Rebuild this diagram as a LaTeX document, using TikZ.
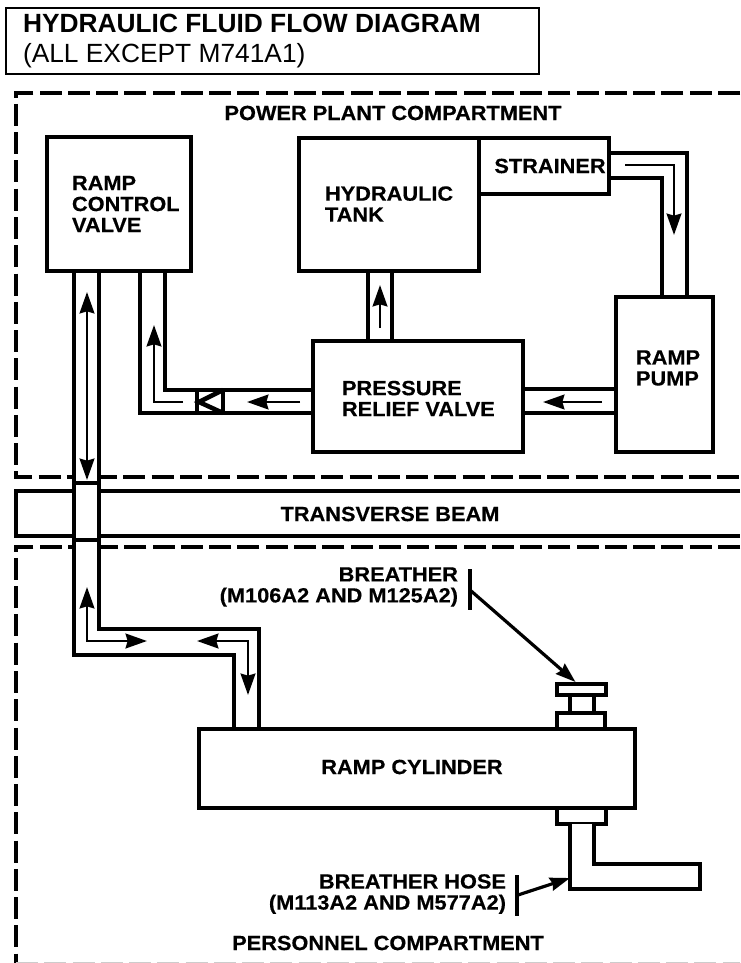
\documentclass[tikz,border=0pt]{standalone}
\usepackage{fontspec}
\setmainfont{Liberation Sans}
\newfontfamily\partfont[BoldFeatures={FakeStretch=1.06,FakeBold=0.4}]{Liberation Sans}
\usepackage{tikz}
\usetikzlibrary{
  arrows.meta,
  calc
}
\tikzset{
partlabel/.style={
  inner sep=0pt,
  outer sep=0pt,
  align=left,
  font=\partfont\fontsize{15.4}{15.75}\selectfont\bfseries
},
rightlabel/.style={
  partlabel,
  align=right
},
box/.style={
  draw,
  line width=2.8pt,
  inner sep=0pt,
  outer sep=0pt
},
titlebox/.style={
  draw,
  line width=1.5pt,
  inner sep=0pt,
  outer sep=0pt,
  minimum width=399.75pt,
  minimum height=49.5pt
},
titletext/.style={
  inner sep=0pt,
  outer sep=0pt,
  align=left,
  font=\fontsize{19.75}{22.5}\selectfont
},
pipe/.style={
  draw,
  line width=2.8pt,
  fill=white
},
compartment/.style={
  draw,
  line width=2.7pt,
  dash pattern=on 16.5pt off 4.7pt
},
flow/.style={
  -{Stealth[length=16pt,width=11pt,inset=1.5pt]},
  line width=2.2pt
},
twoway/.style={
  {Stealth[length=16pt,width=11pt,inset=1.5pt]}-{Stealth[length=16pt,width=11pt,inset=1.5pt]},
  line width=2.2pt
},
leader/.style={
  -{Stealth[length=15pt,width=10pt,inset=1.5pt]},
  line width=2.4pt
},
leaderbar/.style={
  line width=2.4pt
}
}
\begin{document}
\begin{tikzpicture}[x=0.75pt,y=-0.75pt]
  \useasboundingbox (0,0) rectangle (740,963);

  \node[titlebox] (title) at (272.5,41) {};
  \node[titletext,anchor=west] (titlewords) at (23,41)
    {\textbf{HYDRAULIC FLUID FLOW DIAGRAM}\\(ALL EXCEPT M741A1)};

  \draw[compartment] (740,93) -- (16,93) -- (16,477) -- (740,477);
  \draw[compartment] (740,547) -- (16,547) -- (16,963);
  \draw[compartment,draw=black!20,line width=1.5pt] (16,963) -- (740,963);
  \draw[pipe,fill=none] (740,491) -- (16,491) -- (16,536) -- (740,536);

  \node[box,minimum width=108pt,minimum height=100.5pt] (control) at (119,204) {};
  \node[box,minimum width=135pt,minimum height=99.75pt] (tank) at (389,204.5) {};
  \node[box,minimum width=97.5pt,minimum height=42pt] (strainer) at (544,166) {};
  \node[box,minimum width=72.75pt,minimum height=116.25pt] (pump) at (664.5,374.5) {};
  \node[box,minimum width=157.5pt,minimum height=83.25pt] (relief) at (418,396.5) {};
  \node[box,minimum width=327pt,minimum height=59.25pt] (cylinder) at (417,768.5) {};
  \node[box,minimum width=36pt,minimum height=12pt] (breatherbase) at (581,721) {};
  \node[box,minimum width=18pt,minimum height=13.5pt] (breatherneck) at (582,704) {};
  \node[box,minimum width=36.75pt,minimum height=8.25pt] (breathercap) at (581.5,689.5) {};
  \node[box,minimum width=36.75pt,minimum height=12pt] (hosecollar) at (581.5,816) {};

  \node[pipe,inner sep=0pt,outer sep=0pt,minimum width=18.75pt,minimum height=159pt] (riser) at (86.5,377) {};
  \node[pipe,inner sep=0pt,outer sep=0pt,minimum width=18.75pt,minimum height=42.75pt] (crossing) at (86.5,511.5) {};
  \draw[pipe] (crossing.south west) -- (74,655) -- (234,655) -- (cylinder.north -| 234,0)
    -- (cylinder.north -| 259,0) -- (259,629) -- (99,629) -- (crossing.south east) -- cycle;

  \draw[pipe,fill=none] (strainer.east |- 0,153) -- (687,153) -- (pump.north -| 687,0);
  \draw[pipe,fill=none] (strainer.east |- 0,178) -- (662,178) -- (pump.north -| 662,0);
  \draw[pipe,fill=none] (tank.south -| 368,0) -- (relief.north -| 368,0);
  \draw[pipe,fill=none] (tank.south -| 392,0) -- (relief.north -| 392,0);
  \draw[pipe,fill=none] (pump.west |- 0,389) -- (relief.east |- 0,389);
  \draw[pipe,fill=none] (pump.west |- 0,413) -- (relief.east |- 0,413);
  \draw[pipe,fill=none] (control.south -| 140,0) -- (140,413) -- (relief.west |- 0,413);
  \draw[pipe,fill=none] (control.south -| 165,0) -- (165,390) -- (relief.west |- 0,390);

  \coordinate (checkvertex) at (199,402);
  \coordinate (checktop) at (223,390);
  \coordinate (checkbottom) at (223,413);
  \draw[pipe,fill=none,line width=3.4pt] (checktop) -- (checkbottom);
  \draw[pipe,fill=none,line width=3.4pt] (197,390) -- (197,413);
  \draw[pipe,fill=none,line width=3.4pt] (checktop) -- (checkvertex) -- (checkbottom);

  \draw[flow] (625,165) -- (674,165) -- (674,235);
  \draw[flow] (380,328) -- (380,285);
  \draw[flow] (602,402) -- (543,402);
  \draw[flow] (300,402) -- (247,402);
  \draw[flow] (183,402) -- (154,402) -- (154,325);
  \draw[twoway] (87,292) -- (87,480);
  \draw[twoway] (87,587) -- (87,641) -- (147,641);
  \draw[twoway] (197,641) -- (248,641) -- (248,695);

  \coordinate (breatherlead) at (470,590);
  \coordinate (hoselead) at (518,895);
  \draw[leaderbar] (470,569) -- (470,610);
  \draw[leaderbar] (517,875) -- (517,916);
  \draw[leader] (breatherlead) -- ($(breathercap.north)+(-6,-2)$);

  \draw[pipe] (hosecollar.south -| 570,0) -- (570,889) -- (700,889) -- (700,864) -- (594,864)
    -- (hosecollar.south -| 594,0);
  \draw[leader] (hoselead) -- (570,878);

  \node[partlabel] (powerplant) at (393,113) {POWER PLANT COMPARTMENT};
  \node[partlabel,anchor=west] (controltext) at (72,204) {RAMP\\CONTROL\\VALVE};
  \node[partlabel,anchor=west] (tanktext) at (325,204) {HYDRAULIC\\TANK};
  \node[partlabel] (strainertext) at (550,166) {STRAINER};
  \node[partlabel,anchor=west] (pumptext) at (636,368) {RAMP\\PUMP};
  \node[partlabel,anchor=west] (relieftext) at (342,398.5) {PRESSURE\\RELIEF VALVE};
  \node[partlabel] (beamtext) at (390,514) {TRANSVERSE BEAM};
  \node[rightlabel,anchor=east] (breathertext) at (458,587) {BREATHER\\(M106A2 AND M125A2)};
  \node[partlabel] (cylindertext) at (412,767) {RAMP CYLINDER};
  \node[rightlabel,anchor=east] (hosetext) at (506,894) {BREATHER HOSE\\(M113A2 AND M577A2)};
  \node[partlabel] (personnel) at (388,943) {PERSONNEL COMPARTMENT};
\end{tikzpicture}
\end{document}
